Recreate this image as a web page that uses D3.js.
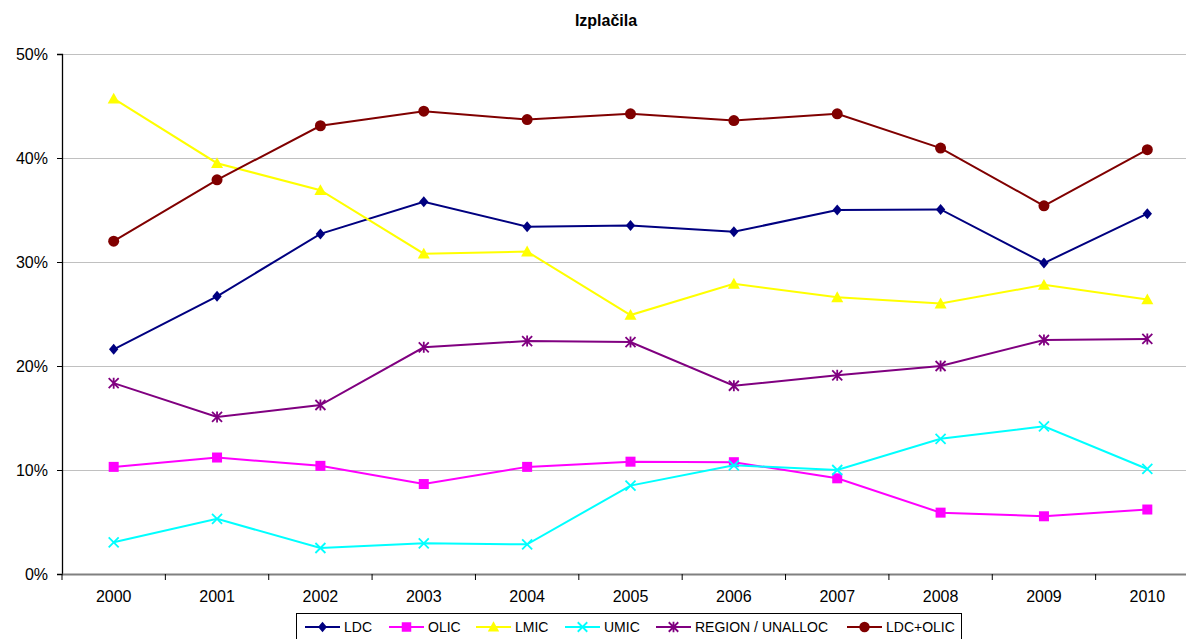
<!DOCTYPE html>
<html><head><meta charset="utf-8">
<script src="https://cdn.jsdelivr.net/npm/d3@7"></script>
<style>body{margin:0;background:#fff}svg{display:block;font-family:"Liberation Sans",Arial,sans-serif}</style>
</head><body><svg id="c" width="1186" height="639"></svg>
<script>
const years = ["2000","2001","2002","2003","2004","2005","2006","2007","2008","2009","2010"];
const yTicks = [0, 10, 20, 30, 40, 50];
const seriesNames = ["LDC","OLIC","LMIC","UMIC","REGION / UNALLOC","LDC+OLIC"];
const ldc    = [21.6, 26.7, 32.7, 35.8, 33.4, 33.5, 32.9, 35.0, 35.05, 29.9, 34.65];
const olic   = [10.3, 11.2, 10.4, 8.65, 10.3, 10.8, 10.75, 9.2, 5.9, 5.55, 6.2];
const lmic   = [45.7, 39.5, 36.9, 30.8, 31.0, 24.9, 27.9, 26.6, 26.0, 27.8, 26.4];
const umic   = [3.05, 5.3, 2.5, 2.95, 2.85, 8.5, 10.45, 10.0, 13.0, 14.2, 10.1];
const region = [18.35, 15.1, 16.25, 21.8, 22.4, 22.3, 18.1, 19.1, 20.0, 22.5, 22.6];
const ldcOlic= [32.0, 37.9, 43.1, 44.5, 43.7, 44.25, 43.6, 44.25, 40.95, 35.4, 40.8];

const colors = ["#000080","#FF00FF","#FFFF00","#00FFFF","#800080","#800000"];
const markers = ["diamond","square","triangle","x","asterisk","circle"];
const data = [ldc, olic, lmic, umic, region, ldcOlic];

const svg = d3.select("#c");
const L = 62, R = 1199, T = 54, B = 574;
const x = d3.scaleBand().domain(years).range([L, R]);
const y = d3.scaleLinear().domain([0, 50]).range([B, T]);

// title
svg.append("text").attr("x", 606).attr("y", 26).attr("text-anchor","middle")
  .attr("font-size", 16).attr("font-weight","bold").text("Izplačila");

// gridlines
svg.append("g").selectAll("line").data(yTicks.filter(d=>d>0)).join("line")
  .attr("x1", L).attr("x2", R).attr("y1", d=>y(d)).attr("y2", d=>y(d))
  .attr("stroke", "#C0C0C0").attr("stroke-width", 1).attr("shape-rendering","crispEdges");

// y axis
const ya = svg.append("g").attr("transform", `translate(${L},0)`)
  .call(d3.axisLeft(y).tickValues(yTicks).tickFormat(d=>d+"%").tickSize(5).tickPadding(9));
ya.select(".domain").attr("stroke","#000").attr("stroke-width",1.3);
ya.selectAll(".tick line").attr("stroke","#000");
ya.selectAll("text").attr("font-size",16).attr("font-family","Liberation Sans, Arial, sans-serif").attr("fill","#000");

// x axis
const xa = svg.append("g").attr("transform", `translate(0,${B})`)
  .call(d3.axisBottom(x).tickSize(0).tickPadding(17));
xa.select(".domain").attr("stroke","#808080").attr("stroke-width",2);
xa.selectAll("text").attr("font-size",16).attr("font-family","Liberation Sans, Arial, sans-serif").attr("fill","#000");
svg.append("g").selectAll("line").data(years.slice(0)).join("line")
  .attr("x1", d=>x(d)).attr("x2", d=>x(d)).attr("y1", B).attr("y2", B+6)
  .attr("stroke","#000").attr("stroke-width",1);

const cx = d => x(d) + x.bandwidth()/2;

function drawMarker(g, type, px, py, color, s) {
  s = s || 1;
  if (type === "diamond") {
    const r = 5.5*s;
    g.append("path").attr("d", `M${px},${py-r}L${px+r*0.85},${py}L${px},${py+r}L${px-r*0.85},${py}Z`).attr("fill", color);
  } else if (type === "square") {
    const r = 5*s;
    g.append("rect").attr("x", px-r).attr("y", py-r).attr("width", 2*r).attr("height", 2*r).attr("fill", color);
  } else if (type === "triangle") {
    const r = 6*s;
    g.append("path").attr("d", `M${px},${py-r}L${px+r},${py+r*0.8}L${px-r},${py+r*0.8}Z`).attr("fill", color);
  } else if (type === "x") {
    const r = 5*s;
    g.append("path").attr("d", `M${px-r},${py-r}L${px+r},${py+r}M${px-r},${py+r}L${px+r},${py-r}`).attr("stroke", color).attr("stroke-width", 1.8);
  } else if (type === "asterisk") {
    const r = 5*s;
    g.append("path").attr("d", `M${px-r},${py-r}L${px+r},${py+r}M${px-r},${py+r}L${px+r},${py-r}M${px},${py-r*1.1}L${px},${py+r*1.1}`).attr("stroke", color).attr("stroke-width", 1.8);
  } else if (type === "circle") {
    g.append("circle").attr("cx", px).attr("cy", py).attr("r", 5.5*s).attr("fill", color);
  }
}

const line = d3.line().x((d,i)=>cx(years[i])).y(d=>y(d));
data.forEach((vals, k) => {
  const g = svg.append("g");
  g.append("path").datum(vals).attr("d", line).attr("fill","none")
    .attr("stroke", colors[k]).attr("stroke-width", 2);
  vals.forEach((v,i) => drawMarker(g, markers[k], cx(years[i]), y(v), colors[k]));
});

// legend
const lg = svg.append("g");
const legBox = lg.append("rect").attr("x", 296.5).attr("y", 613.5).attr("width", 665).attr("height", 40)
  .attr("fill","#fff").attr("stroke","#000").attr("stroke-width",1);
const legX = [305, 389, 476, 565, 656, 847];
seriesNames.forEach((n,k) => {
  const lx = legX[k], ly = 627;
  lg.append("line").attr("x1", lx).attr("x2", lx+35).attr("y1", ly).attr("y2", ly)
    .attr("stroke", colors[k]).attr("stroke-width", 2);
  drawMarker(lg, markers[k], lx+17.5, ly, colors[k], 0.95);
  lg.append("text").attr("x", lx+39).attr("y", ly+5).attr("font-size", 14).attr("fill","#000").text(n);
});
</script></body></html>
